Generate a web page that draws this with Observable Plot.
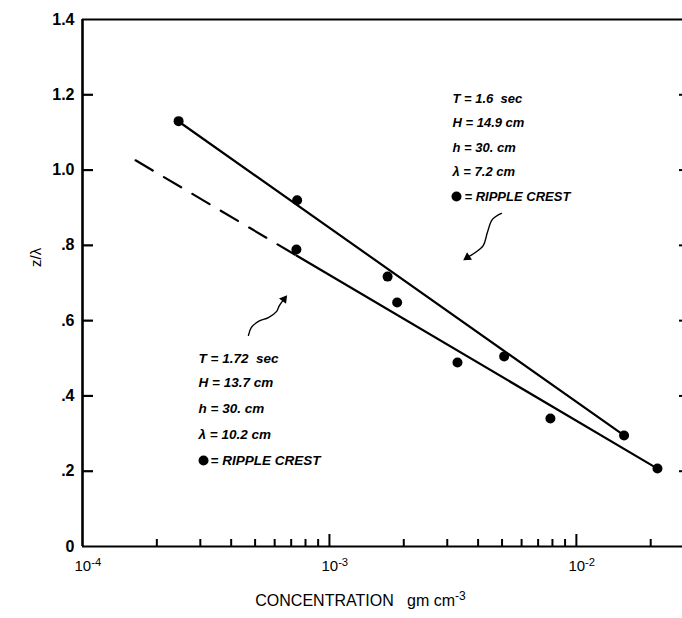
<!DOCTYPE html>
<html>
<head>
<meta charset="utf-8">
<script src="https://cdn.jsdelivr.net/npm/d3@7"></script>
<script src="https://cdn.jsdelivr.net/npm/@observablehq/plot@0.6"></script>
<style>
  body { margin: 0; background: #fff; }
  #chart svg { display: block; }
</style>
</head>
<body>
<div id="chart"></div>
<script>
// Vertical axis: ripple-crest height ratio z/λ
const yTicks = [0, 0.2, 0.4, 0.6, 0.8, 1.0, 1.2, 1.4];
const yTickLabels = ["0", ".2", ".4", ".6", ".8", "1.0", "1.2", "1.4"];

// Horizontal axis: concentration (log scale); "^" marks a superscript
const xDecades = [1e-4, 1e-3, 1e-2];
const xDecadeLabels = ["10^-4", "10^-3", "10^-2"];
const xMinorTicks = [2e-4, 3e-4, 4e-4, 5e-4, 6e-4, 7e-4, 8e-4, 9e-4,
                     2e-3, 3e-3, 4e-3, 5e-3, 6e-3, 7e-3, 8e-3, 9e-3, 2e-2];
const xMax = 0.0269;
const xTitle = "CONCENTRATION   gm cm^-3";
const yTitle = "z/λ";

// Run A: T = 1.6 sec (upper line)
const runAConc = [2.45e-4, 7.4e-4, 1.72e-3, 5.1e-3, 1.56e-2];
const runAZ = [1.13, 0.92, 0.717, 0.505, 0.295];
const runAFitConc = [2.45e-4, 1.56e-2];
const runAFitZ = [1.129, 0.295];

// Run B: T = 1.72 sec (lower line, dashed where extrapolated)
const runBConc = [7.35e-4, 1.88e-3, 3.3e-3, 7.85e-3, 2.13e-2];
const runBZ = [0.789, 0.648, 0.489, 0.34, 0.207];
const runBDashConc = [1.64e-4, 7.35e-4];
const runBDashZ = [1.026, 0.773];
const runBSolidConc = [7.35e-4, 2.13e-2];
const runBSolidZ = [0.773, 0.207];

// Annotation blocks
const runALabels = ["T = 1.6  sec", "H = 14.9 cm", "h = 30. cm", "λ = 7.2 cm"];
const runALabelZ = [1.190, 1.125, 1.060, 0.995];
const runALegendZ = 0.930;
const runALabelConc = 3.15e-3;

const runBLabels = ["T = 1.72  sec", "H = 13.7 cm", "h = 30. cm", "λ = 10.2 cm"];
const runBLabelZ = [0.4995, 0.4357, 0.3666, 0.2976];
const runBLegendZ = 0.2285;
const runBLabelConc = 2.95e-4;

const legendText = "= RIPPLE CREST";

// Pointer curves from each label block to its line
const arrowAConc = [4.97e-3, 4.57e-3, 4.36e-3, 4.20e-3, 3.90e-3, 3.62e-3];
const arrowAZ = [0.885, 0.869, 0.834, 0.800, 0.781, 0.768];
const arrowBConc = [4.70e-4, 4.83e-4, 5.16e-4, 5.66e-4, 6.10e-4, 6.27e-4, 6.55e-4];
const arrowBZ = [0.561, 0.582, 0.598, 0.608, 0.624, 0.640, 0.657];

const zip = (xs, ys) => xs.map((x, i) => ({x, y: ys[i]}));

const W = 682, H = 618;
const mL = 82, mR = 0, mT = 19, mB = 72;
const innerW = W - mL - mR, innerH = H - mT - mB;

const ink = "#000";
const noteFont = {fontFamily: "Liberation Sans", fontStyle: "italic", fontWeight: "bold", fill: ink};

const chart = Plot.plot({
  width: W,
  height: H,
  marginLeft: mL,
  marginRight: mR,
  marginTop: mT,
  marginBottom: mB,
  style: {fontFamily: "Liberation Sans", background: "#fff", color: ink, overflow: "visible"},
  x: {type: "log", domain: [1e-4, xMax], axis: null},
  y: {domain: [0, 1.4], axis: null},
  marks: [
    // frame
    Plot.ruleX([1e-4], {stroke: ink, strokeWidth: 2.6}),
    Plot.ruleY([0], {stroke: ink, strokeWidth: 2.2}),
    Plot.ruleY([1.4], {stroke: ink, strokeWidth: 2.2}),
    // inward ticks
    Plot.ruleY(yTicks.slice(1, -1), {stroke: ink, strokeWidth: 2.2, insetRight: innerW - 11}),
    Plot.ruleY(yTicks.slice(1, -1), {stroke: ink, strokeWidth: 2, insetLeft: innerW - 3}),
    Plot.ruleX(xMinorTicks, {stroke: ink, strokeWidth: 2, insetTop: innerH - 7}),
    Plot.ruleX(xDecades.slice(1), {stroke: ink, strokeWidth: 2, insetTop: innerH - 12}),
    // tick labels
    Plot.text(yTicks, {
      x: () => 1e-4, y: d => d, text: (d, i) => yTickLabels[i],
      textAnchor: "end", dx: -8, fontSize: 16, fontWeight: "bold", fill: ink
    }),
    Plot.text(xDecades, {
      x: d => d, y: () => 0, text: (d, i) => xDecadeLabels[i],
      textAnchor: "start", lineAnchor: "top", dx: -8, dy: 14, fontSize: 15, fill: ink
    }),
    // axis titles
    Plot.text([xTitle], {
      frameAnchor: "bottom", dy: 48, dx: -22, text: d => d, lineAnchor: "top",
      fontSize: 16, fill: ink, letterSpacing: "0.6px"
    }),
    Plot.text([yTitle], {
      frameAnchor: "left", dx: -46, dy: -16, rotate: -90, text: d => d,
      fontSize: 15, fill: ink
    }),
    // fitted lines
    Plot.line(zip(runAFitConc, runAFitZ), {x: "x", y: "y", stroke: ink, strokeWidth: 2.2}),
    Plot.line(zip(runBSolidConc, runBSolidZ), {x: "x", y: "y", stroke: ink, strokeWidth: 2.2}),
    Plot.line(zip(runBDashConc, runBDashZ), {x: "x", y: "y", stroke: ink, strokeWidth: 2.2, strokeDasharray: "20,13"}),
    // observed ripple crests
    Plot.dot(zip(runAConc, runAZ), {x: "x", y: "y", r: 5, fill: ink}),
    Plot.dot(zip(runBConc, runBZ), {x: "x", y: "y", r: 5, fill: ink}),
    // annotation: run A
    Plot.text(runALabels, {
      x: () => runALabelConc, y: (d, i) => runALabelZ[i], text: d => d,
      textAnchor: "start", fontSize: 13, ...noteFont
    }),
    Plot.dot([runALegendZ], {x: () => runALabelConc, y: d => d, r: 5, fill: ink, dx: 4}),
    Plot.text([runALegendZ], {
      x: () => runALabelConc, y: d => d, text: () => legendText,
      textAnchor: "start", dx: 12, fontSize: 13, ...noteFont
    }),
    Plot.line(zip(arrowAConc, arrowAZ), {x: "x", y: "y", stroke: ink, strokeWidth: 1.4, curve: "catmull-rom"}),
    Plot.dot([zip(arrowAConc, arrowAZ).at(-1)], {x: "x", y: "y", symbol: "triangle2", r: 4.2, fill: ink, rotate: 236}),
    // annotation: run B
    Plot.text(runBLabels, {
      x: () => runBLabelConc, y: (d, i) => runBLabelZ[i], text: d => d,
      textAnchor: "start", fontSize: 13.5, ...noteFont
    }),
    Plot.dot([runBLegendZ], {x: () => runBLabelConc, y: d => d, r: 5, fill: ink, dx: 5}),
    Plot.text([runBLegendZ], {
      x: () => runBLabelConc, y: d => d, text: () => legendText,
      textAnchor: "start", dx: 12, fontSize: 13.5, ...noteFont
    }),
    Plot.line(zip(arrowBConc, arrowBZ), {x: "x", y: "y", stroke: ink, strokeWidth: 1.4, curve: "catmull-rom"}),
    Plot.dot([zip(arrowBConc, arrowBZ).at(-1)], {x: "x", y: "y", symbol: "triangle2", r: 4.2, fill: ink, rotate: 37})
  ]
});

// Render "base^exp" labels with a raised exponent
d3.select(chart).selectAll("text").each(function () {
  const t = this.textContent;
  const k = t.indexOf("^");
  if (k < 0) return;
  const el = d3.select(this);
  el.text(t.slice(0, k));
  el.append("tspan").attr("dy", "-0.45em").attr("font-size", "0.75em").text(t.slice(k + 1));
});

document.getElementById("chart").appendChild(chart);
</script>
</body>
</html>
